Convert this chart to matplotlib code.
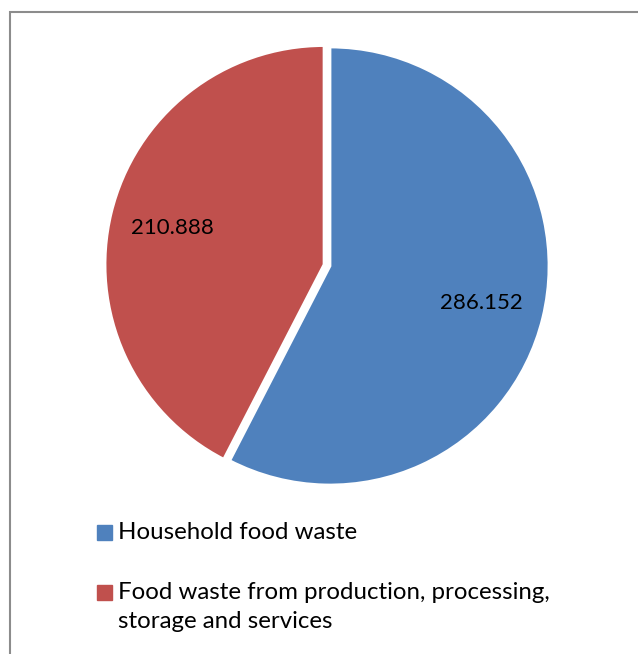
import math
import matplotlib
matplotlib.use('Agg')
from matplotlib import pyplot as plt
from matplotlib.patches import Rectangle

# 数据
categories = ['Household food waste',
              'Food waste from production, processing,\nstorage and services']
values = [286.152, 210.888]
value_labels = ['286.152', '210.888']
colors = ['#4F81BD', '#C0504D']

plt.rcParams['font.family'] = ['Lato', 'DejaVu Sans']

fig = plt.figure(figsize=(6.38, 6.54), dpi=100)
W, H = 638, 654

# 外框
fig.patches.append(Rectangle((9.5 / W, -0.1), 1.2, (H - 11.5) / H + 0.1,
                             transform=fig.transFigure, fill=False,
                             edgecolor='#8c8c8c', linewidth=1.5))

# 饼图
cx, cy, r = 330, 266, 219
ax = fig.add_axes([(cx - r) / W, (H - cy - r) / H, 2 * r / W, 2 * r / H])
wedges, texts = ax.pie(values, colors=colors, startangle=90, counterclock=False,
                       explode=[0, 0.028],
                       wedgeprops=dict(edgecolor='white', linewidth=2))
for w, lab in zip(wedges, value_labels):
    ang = math.radians((w.theta1 + w.theta2) / 2)
    x0, y0 = w.center
    ax.text(x0 + 0.71 * math.cos(ang), y0 + 0.71 * math.sin(ang), lab,
            ha='center', va='center', fontsize=16, color='black')
ax.set_xlim(-1, 1)
ax.set_ylim(-1, 1)
ax.set_aspect('equal')
ax.axis('off')

# 图例
legend_y = [532, 592]
for lab, c, y in zip(categories, colors, legend_y):
    fig.patches.append(Rectangle((97 / W, (H - y - 7.5) / H), 15 / W, 15 / H,
                                 transform=fig.transFigure, color=c))
    fig.text(118 / W, (H - y + 10) / H, lab, ha='left', va='top',
             fontsize=17.3, linespacing=1.5)

fig.savefig('out.png', dpi=100)
